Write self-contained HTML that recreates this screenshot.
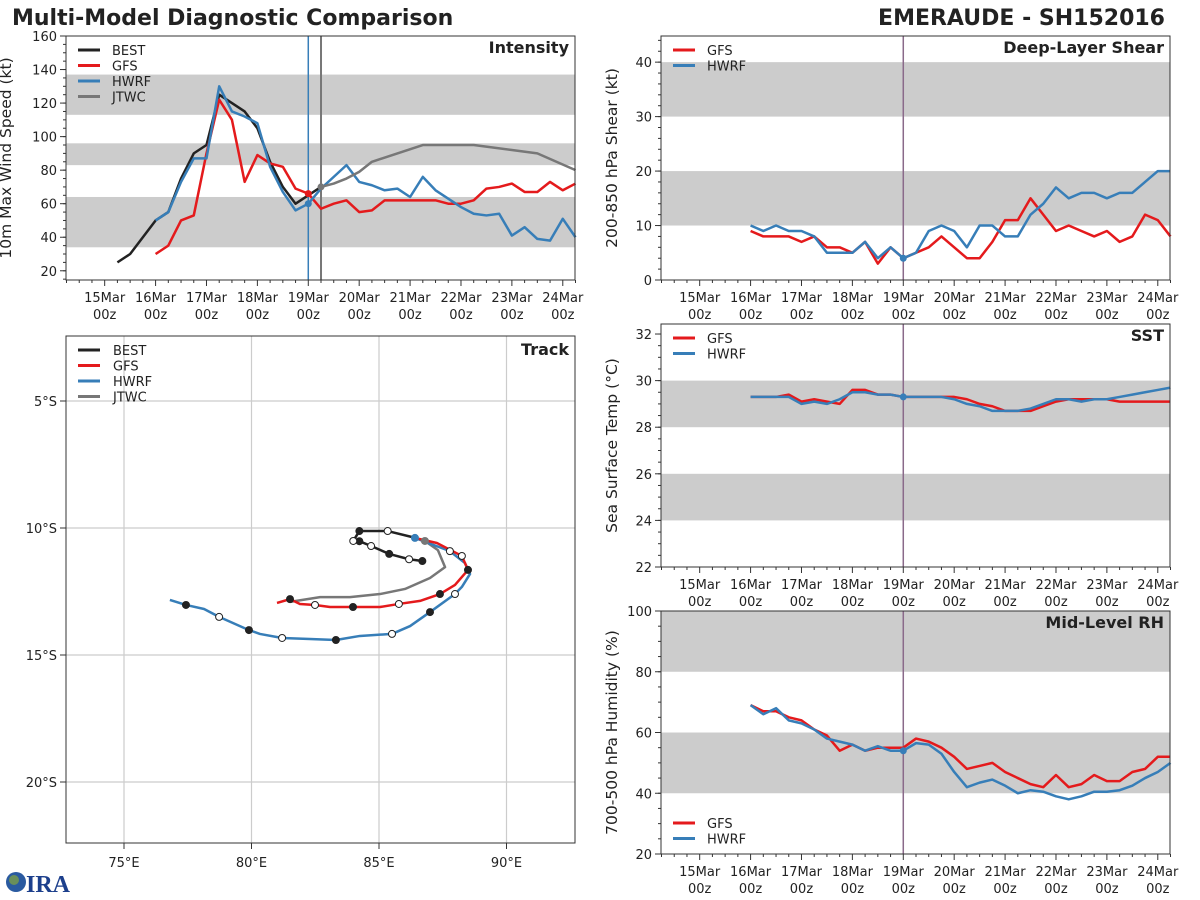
<!DOCTYPE html>
<html><head><meta charset="utf-8"><style>
html,body{margin:0;padding:0;background:#fff;}
svg{display:block;font-family:"DejaVu Sans","Liberation Sans",sans-serif;}
</style></head><body>
<svg id="fig" width="1200" height="900" viewBox="0 0 1200 900" xmlns="http://www.w3.org/2000/svg">
<text x="12" y="25" font-size="22" font-weight="bold" fill="#222">Multi-Model Diagnostic Comparison</text>
<text x="1165" y="25" font-size="22" font-weight="bold" fill="#222" text-anchor="end">EMERAUDE - SH152016</text>
<g>
<circle cx="16" cy="882" r="10" fill="#2a5aa0"/><circle cx="14" cy="880" r="5" fill="#6a8f5a"/>
<text x="26" y="892" font-size="24" font-weight="bold" fill="#1c3f8c" font-family="Liberation Serif,serif">IRA</text>
</g>
</svg>
<script>
// ---------- data ----------
const days=['15Mar','16Mar','17Mar','18Mar','19Mar','20Mar','21Mar','22Mar','23Mar','24Mar'];
const bestStart=0.25;
const bestVmax=[25,30,40,50,55,75,90,95,125,120,115,105,85,70,60,65,70];
const gfsStart=1.0;
const gfsVmax=[30,35,50,53,90,122,110,73,89,84,82,69,66,57,60,62,55,56,62,62,62,62,62,60,60,62,69,70,72,67,67,73,68,72];
const hwrfVmax=[50,55,73,87,87,130,115,112,108,82,67,56,60,69,76,83,73,71,68,69,64,76,68,63,58,54,53,54,41,46,39,38,51,40];
const jtwcTimes=[4.25,4.5,4.75,5.0,5.25,5.75,6.25,7.25,8.0,8.5,9.25];
const jtwcVmax=[70,72,75,79,85,90,95,95,92,90,80];
const gfsShear=[9,8,8,8,7,8,6,6,5,7,3,6,4,5,6,8,6,4,4,7,11,11,15,12,9,10,9,8,9,7,8,12,11,8];
const hwrfShear=[10,9,10,9,9,8,5,5,5,7,4,6,4,5,9,10,9,6,10,10,8,8,12,14,17,15,16,16,15,16,16,18,20,20];
const gfsSst=[29.3,29.3,29.3,29.4,29.1,29.2,29.1,29.0,29.6,29.6,29.4,29.4,29.3,29.3,29.3,29.3,29.3,29.2,29.0,28.9,28.7,28.7,28.7,28.9,29.1,29.2,29.2,29.2,29.2,29.1,29.1,29.1,29.1,29.1];
const hwrfSst=[29.3,29.3,29.3,29.3,29.0,29.1,29.0,29.2,29.5,29.5,29.4,29.4,29.3,29.3,29.3,29.3,29.2,29.0,28.9,28.7,28.7,28.7,28.8,29.0,29.2,29.2,29.1,29.2,29.2,29.3,29.4,29.5,29.6,29.7];
const gfsRh=[69,67,67,65,64,61,59,54,56,54,55,55,55,58,57,55,52,48,49,50,47,45,43,42,46,42,43,46,44,44,47,48,52,52];
const hwrfRh=[69,66,68,64,63,61,58,57,56,54,55.5,54,54,56.5,56,53,47,42,43.5,44.5,42.5,40,41,40.5,39,38,39,40.5,40.5,41,42.5,45,47,50];
// track: [lon, lat(S), filled(1)/open(0)/none(-1)]
const bestTrack=[[86.70,11.30,1],[86.18,11.23,0],[85.40,11.02,1],[84.69,10.71,0],[84.23,10.52,1],[83.99,10.51,0],[84.23,10.12,1],[85.34,10.12,0],[86.35,10.37,-1]];
const gfsTrack=[[86.41,10.39,-1],[87.27,10.59,-1],[88.25,11.10,0],[88.49,11.65,1],[87.98,12.24,-1],[87.39,12.60,1],[86.61,12.87,-1],[85.78,12.99,0],[85.04,13.11,-1],[83.98,13.11,1],[83.08,13.11,-1],[82.49,13.03,0],[81.9,12.99,-1],[81.51,12.80,1],[81.0,12.95,-1]];
const hwrfTrack=[[86.41,10.39,-1],[87.78,10.91,0],[88.37,11.38,-1],[88.57,11.81,-1],[88.25,12.32,-1],[87.98,12.60,0],[87.0,13.31,1],[86.22,13.86,-1],[85.51,14.17,0],[84.25,14.25,-1],[83.31,14.41,1],[82.29,14.37,-1],[81.2,14.33,0],[80.33,14.17,-1],[79.9,14.02,1],[78.73,13.50,0],[78.14,13.19,-1],[77.43,13.03,1],[76.80,12.83,-1]];
const jtwcTrack=[[86.80,10.51],[87.31,10.87],[87.59,11.54],[87.0,11.97],[86.02,12.40],[85.04,12.60],[83.86,12.72],[82.69,12.72],[81.51,12.91]];
const lonTicks=[75,80,85,90];
const latTicks=[5,10,15,20];

const C={best:'#222222',gfs:'#e41a1c',hwrf:'#377eb8',jtwc:'#777777'};
const NS='http://www.w3.org/2000/svg';
const svg=document.getElementById('fig');
function mk(tag,attrs,parent){const e=document.createElementNS(NS,tag);for(const k in attrs)e.setAttribute(k,attrs[k]);(parent||svg).appendChild(e);return e;}
function txt(s,attrs,parent){const e=mk('text',attrs,parent);e.textContent=s;return e;}

function panel(name,x0,x1,y0,y1,ymin,ymax,yticks,yminor,bands,ylabel,title,ylOff){
  const g=mk('g',{});
  
  
  const t0=-0.76,t1=9.24;
  const X=t=>x0+(t-t0)/(t1-t0)*(x1-x0);
  const Y=v=>y1-(v-ymin)/(ymax-ymin)*(y1-y0);
  bands.forEach(b=>{const r=mk('rect',{x:x0,y:Y(Math.min(b[1],ymax)),width:x1-x0,height:Y(b[0])-Y(Math.min(b[1],ymax)),fill:'#cccccc'},g);
    
    });
  for(let v=Math.ceil(ymin/yminor)*yminor;v<=ymax;v+=yminor){mk('line',{x1:x0,x2:x0-3,y1:Y(v),y2:Y(v),stroke:'#333'},g);}
  yticks.forEach(v=>{mk('line',{x1:x0,x2:x0-6,y1:Y(v),y2:Y(v),stroke:'#333'},g);
    const l=txt(String(v),{x:x0-9,y:Y(v)+5,'font-size':13,'text-anchor':'end',fill:'#222'},g);
    
    });
  for(let t=-0.75;t<=9.25;t+=0.25){const maj=Math.abs(t-Math.round(t))<1e-6;mk('line',{x1:X(t),x2:X(t),y1:y1,y2:y1+(maj?6:3),stroke:'#333'},g);}
  days.forEach((d,i)=>{const l=txt(d,{x:X(i),y:y1+22,'font-size':13,'text-anchor':'middle',fill:'#222'},g);
    
    
    txt('00z',{x:X(i),y:y1+39,'font-size':13,'text-anchor':'middle',fill:'#222'},g);});
  const yl=txt(ylabel,{x:0,y:0,'font-size':15.5,'text-anchor':'middle',fill:'#222',transform:`translate(${x0-ylOff},${(y0+y1)/2}) rotate(-90)`},g);
  
  
  const tt=txt(title,{x:x1-6,y:y0+17,'font-size':16,'font-weight':'bold','text-anchor':'end',fill:'#222'},g);
  
  
  return {g,X,Y,x0,x1,y0,y1};
}
function frame(p){mk('rect',{x:p.x0,y:p.y0,width:p.x1-p.x0,height:p.y1-p.y0,fill:'none',stroke:'#333','stroke-width':1},p.g);}
function series(p,start,vals,color,name,times){
  const pts=vals.map((v,i)=>[p.X(times?times[i]:start+0.25*i),p.Y(v)]);
  const l=mk('polyline',{points:pts.map(q=>q.join(',')).join(' '),fill:'none',stroke:color,'stroke-width':2.5,'stroke-linejoin':'round'},p.g);
  
  
}
function legend(p,items,x,y){
  items.forEach((it,i)=>{const yy=y+i*15.5;
    mk('line',{x1:x,x2:x+22,y1:yy,y2:yy,stroke:it[1],'stroke-width':3},p.g);
    const l=txt(it[0],{x:x+34,y:yy+5,'font-size':13,fill:'#222'},p.g);
    
    });
}

// Intensity
const pI=panel('intensity-panel',66,575,36,280,14.5,160,[20,40,60,80,100,120,140,160],5,[[34,64],[83,96],[113,137]],'10m Max Wind Speed (kt)','Intensity',55);
mk('line',{x1:pI.X(4),x2:pI.X(4),y1:36,y2:280,stroke:C.hwrf,'stroke-width':1.5},pI.g);
mk('line',{x1:pI.X(4.25),x2:pI.X(4.25),y1:36,y2:280,stroke:C.jtwc,'stroke-width':2},pI.g);
series(pI,bestStart,bestVmax,C.best,'best-intensity-line');
series(pI,gfsStart,gfsVmax,C.gfs,'gfs-intensity-line');
series(pI,gfsStart,hwrfVmax,C.hwrf,'hwrf-intensity-line');
series(pI,0,jtwcVmax,C.jtwc,'jtwc-intensity-line',jtwcTimes);
mk('circle',{cx:pI.X(4),cy:pI.Y(gfsVmax[12]),r:3.5,fill:C.gfs},pI.g);
mk('circle',{cx:pI.X(4),cy:pI.Y(hwrfVmax[12]),r:3.5,fill:C.hwrf},pI.g);
mk('circle',{cx:pI.X(4.25),cy:pI.Y(jtwcVmax[0]),r:3.5,fill:C.jtwc},pI.g);
legend(pI,[['BEST',C.best],['GFS',C.gfs],['HWRF',C.hwrf],['JTWC',C.jtwc]],78,50);
frame(pI);

// Shear
const pS=panel('shear-panel',661,1170,36,280,0,44.8,[0,10,20,30,40],2,[[10,20],[30,40]],'200-850 hPa Shear (kt)','Deep-Layer Shear',44);
mk('line',{x1:pS.X(4),x2:pS.X(4),y1:36,y2:280,stroke:'#8a6a8a','stroke-width':1.5},pS.g);
series(pS,1,gfsShear,C.gfs,'gfs-shear-line');
series(pS,1,hwrfShear,C.hwrf,'hwrf-shear-line');
mk('circle',{cx:pS.X(4),cy:pS.Y(4),r:3.5,fill:C.hwrf},pS.g);
legend(pS,[['GFS',C.gfs],['HWRF',C.hwrf]],673,50);
frame(pS);

// SST
const pT=panel('sst-panel',661,1170,324,567,22,32.43,[22,24,26,28,30,32],0.5,[[24,26],[28,30]],'Sea Surface Temp (°C)','SST',44);
mk('line',{x1:pT.X(4),x2:pT.X(4),y1:324,y2:567,stroke:'#8a6a8a','stroke-width':1.5},pT.g);
series(pT,1,gfsSst,C.gfs,'gfs-sst-line');
series(pT,1,hwrfSst,C.hwrf,'hwrf-sst-line');
mk('circle',{cx:pT.X(4),cy:pT.Y(29.3),r:3.5,fill:C.hwrf},pT.g);
legend(pT,[['GFS',C.gfs],['HWRF',C.hwrf]],673,338);
frame(pT);

// RH
const pR=panel('rh-panel',661,1170,611,854,20,100,[20,40,60,80,100],5,[[40,60],[80,100]],'700-500 hPa Humidity (%)','Mid-Level RH',44);
mk('line',{x1:pR.X(4),x2:pR.X(4),y1:611,y2:854,stroke:'#8a6a8a','stroke-width':1.5},pR.g);
series(pR,1,gfsRh,C.gfs,'gfs-rh-line');
series(pR,1,hwrfRh,C.hwrf,'hwrf-rh-line');
mk('circle',{cx:pR.X(4),cy:pR.Y(54),r:3.5,fill:C.hwrf},pR.g);
legend(pR,[['GFS',C.gfs],['HWRF',C.hwrf]],673,823);
frame(pR);

// Track
(function(){
  const g=mk('g',{});
  
  
  const x0=66,x1=575,y0=336,y1=843;
  const LX=lon=>124+(lon-75)*25.5;
  const LY=lat=>401+(lat-5)*25.4;
  lonTicks.forEach(v=>{mk('line',{x1:LX(v),x2:LX(v),y1:y0,y2:y1,stroke:'#cccccc','stroke-width':1.2},g);
    mk('line',{x1:LX(v),x2:LX(v),y1:y1,y2:y1+6,stroke:'#333'},g);
    const l=txt(v+'°E',{x:LX(v),y:y1+24,'font-size':13,'text-anchor':'middle',fill:'#222'},g);
    
    });
  latTicks.forEach(v=>{mk('line',{x1:x0,x2:x1,y1:LY(v),y2:LY(v),stroke:'#cccccc','stroke-width':1.2},g);
    mk('line',{x1:x0,x2:x0-6,y1:LY(v),y2:LY(v),stroke:'#333'},g);
    const l=txt(v+'°S',{x:x0-9,y:LY(v)+5,'font-size':13,'text-anchor':'end',fill:'#222'},g);
    
    });
  function trk(arr,color,name){
    const l=mk('polyline',{points:arr.map(p=>LX(p[0])+','+LY(p[1])).join(' '),fill:'none',stroke:color,'stroke-width':2.5,'stroke-linejoin':'round'},g);
    
    
  }
  trk(jtwcTrack,C.jtwc,'jtwc-track');
  trk(hwrfTrack,C.hwrf,'hwrf-track');
  trk(gfsTrack,C.gfs,'gfs-track');
  trk(bestTrack,C.best,'best-track');
  [bestTrack,gfsTrack,hwrfTrack].forEach(a=>a.forEach(p=>{if(p[2]<0)return;
    mk('circle',{cx:LX(p[0]),cy:LY(p[1]),r:3.5,fill:p[2]?'#222':'#fff',stroke:'#222','stroke-width':1},g);}));
  mk('circle',{cx:LX(86.41),cy:LY(10.39),r:4,fill:C.hwrf},g);
  mk('circle',{cx:LX(86.80),cy:LY(10.51),r:4,fill:C.jtwc},g);
  const t=txt('Track',{x:x1-6,y:y0+19,'font-size':16,'font-weight':'bold','text-anchor':'end',fill:'#222'},g);
  
  
  [['BEST',C.best],['GFS',C.gfs],['HWRF',C.hwrf],['JTWC',C.jtwc]].forEach((it,i)=>{const yy=350+i*15.5;
    mk('line',{x1:78,x2:100,y1:yy,y2:yy,stroke:it[1],'stroke-width':3},g);
    const l=txt(it[0],{x:113,y:yy+5,'font-size':13,fill:'#222'},g);
    
    });
  mk('rect',{x:x0,y:y0,width:x1-x0,height:y1-y0,fill:'none',stroke:'#333'},g);
})();
</script>
</body></html>
